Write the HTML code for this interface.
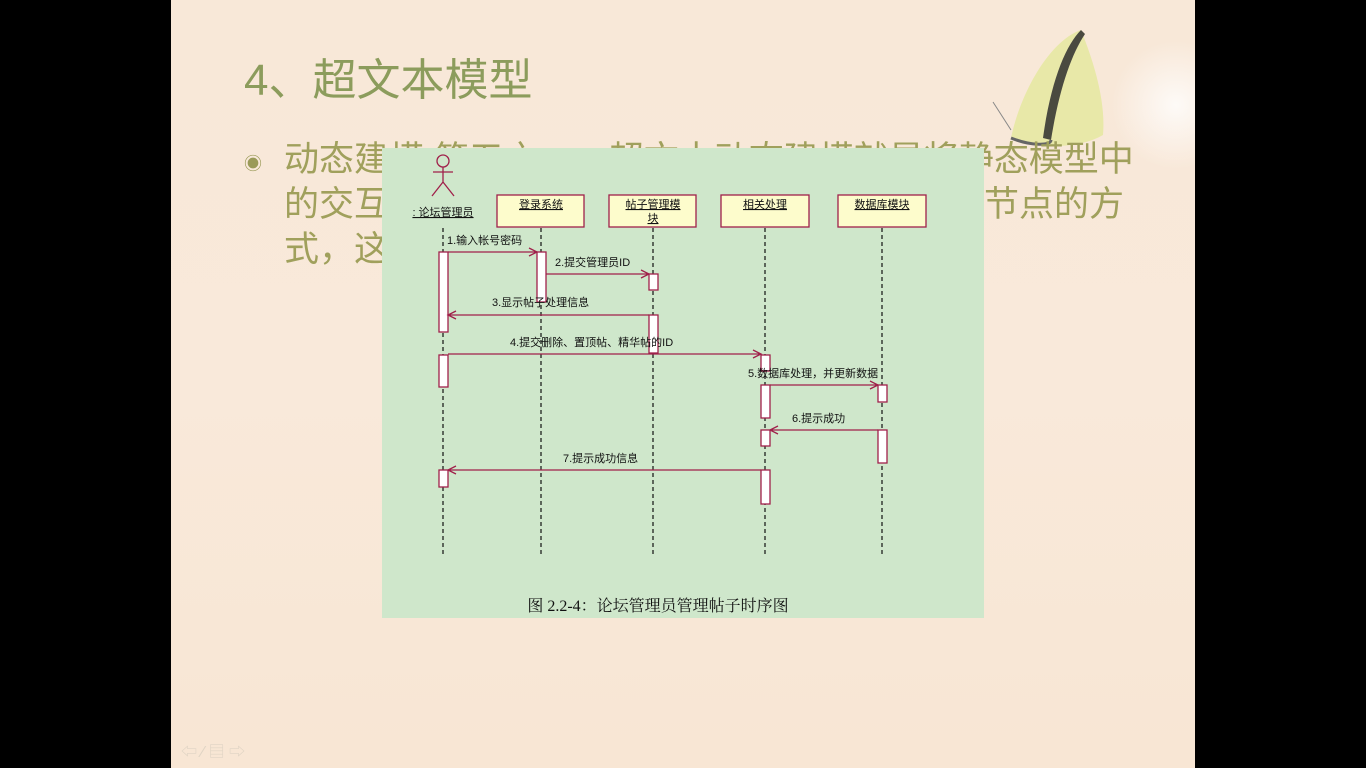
<!DOCTYPE html>
<html><head><meta charset="utf-8"><style>
body{margin:0;width:1366px;height:768px;background:#000;overflow:hidden;position:relative;font-family:"Liberation Sans","Noto Sans CJK SC",sans-serif}
#slide{position:absolute;left:171px;top:0;width:1024px;height:768px;background:linear-gradient(180deg,#f8e8d8 0%,#f9e9da 50%,#f8e6d4 100%);overflow:hidden}
.t{position:absolute;white-space:nowrap}
</style></head><body>
<div id="slide">
<div style="position:absolute;left:940px;top:40px;width:130px;height:130px;border-radius:50%;background:radial-gradient(circle,rgba(255,255,255,.8),rgba(255,255,255,0) 70%)"></div>
<svg style="position:absolute;left:810px;top:20px" width="214" height="140">
<path d="M30 118 C40 70 70 20 100 10 C112 40 125 80 122 115 C100 128 60 130 30 118 Z" fill="#e8e8a8"/>
<path d="M100 10 C85 25 70 60 62 118 L70 120 C78 70 90 35 104 14Z" fill="#4a4a40"/>
<path d="M30 118 C50 126 70 126 70 120" stroke="#666" stroke-width="3" fill="none"/>
<path d="M30 110 L12 82" stroke="#888" stroke-width="1" fill="none"/>
</svg>
<div class="t" style="left:73px;top:44px;font-size:44px;color:#8c9c5c">4、超文本模型</div>
<div class="t" style="left:73px;top:150px;font-size:18px;color:#9a9a58">◉</div>
<div class="t" style="left:113px;top:137px;font-size:35px;line-height:45px;color:#a0a05c">动态建模 第五之一，超文本动态建模就是将静态模型中<br>的交互行为用于描述系统的动态行为并映射到节点的方<br>式，这</div>
<div class="t" style="left:10px;top:738px;font-size:16px;color:#e0d4c4">⇦ ∕ ▤ ⇨</div>
</div>
<svg style="position:absolute;left:0;top:0" width="1366" height="768" font-family="Liberation Sans,Noto Sans CJK SC,sans-serif">
<rect x="382" y="148" width="602" height="470" fill="#cfe7cb"/>
<g stroke="#a0204a" fill="none" stroke-width="1.3">
<circle cx="443" cy="161" r="6"/>
<path d="M443 167 V182 M433 172 H453 M443 182 L432 196 M443 182 L454 196"/>
</g>
<g fill="#fdfccc" stroke="#a0204a" stroke-width="1.3">
<rect x="497" y="195" width="87" height="32"/><rect x="609" y="195" width="87" height="32"/>
<rect x="721" y="195" width="88" height="32"/><rect x="838" y="195" width="88" height="32"/>
</g>
<g font-size="11" fill="#111" text-decoration="underline" text-anchor="middle">
<text x="443" y="216">: 论坛管理员</text>
<text x="541" y="208">登录系统</text>
<text x="653" y="208">帖子管理模</text><text x="653" y="222">块</text>
<text x="765" y="208">相关处理</text><text x="882" y="208">数据库模块</text>
</g>
<g stroke="#111" stroke-dasharray="4,3" stroke-width="1.2">
<path d="M443 228V557M541 228V557M653 228V557M765 228V557M882 228V557"/>
</g>
<g fill="#fff" stroke="#a0204a" stroke-width="1.3">
<rect x="439" y="252" width="9" height="80"/><rect x="439" y="355" width="9" height="32"/><rect x="439" y="470" width="9" height="17"/>
<rect x="537" y="252" width="9" height="50"/>
<rect x="649" y="274" width="9" height="16"/><rect x="649" y="315" width="9" height="38"/>
<rect x="761" y="355" width="9" height="16"/><rect x="761" y="385" width="9" height="33"/><rect x="761" y="430" width="9" height="16"/><rect x="761" y="470" width="9" height="34"/>
<rect x="878" y="385" width="9" height="17"/><rect x="878" y="430" width="9" height="33"/>
</g>
<g stroke="#a0204a" stroke-width="1.3" fill="none">
<path d="M448 252H537M529 248L537 252L529 256"/>
<path d="M546 274H649M641 270L649 274L641 278"/>
<path d="M649 315H448M456 311L448 315L456 319"/>
<path d="M448 354H761M753 350L761 354L753 358"/>
<path d="M770 385H878M870 381L878 385L870 389"/>
<path d="M878 430H770M778 426L770 430L778 434"/>
<path d="M761 470H448M456 466L448 470L456 474"/>
</g>
<g font-size="11" fill="#111">
<text x="447" y="244">1.输入帐号密码</text>
<text x="555" y="266">2.提交管理员ID</text>
<text x="492" y="306">3.显示帖子处理信息</text>
<text x="510" y="346">4.提交删除、置顶帖、精华帖的ID</text>
<text x="748" y="377">5.数据库处理，并更新数据</text>
<text x="792" y="422">6.提示成功</text>
<text x="563" y="462">7.提示成功信息</text>
</g>
<text x="658" y="611" font-size="16" text-anchor="middle" fill="#111" font-family="Liberation Serif,Noto Serif CJK SC,serif">图 2.2-4：论坛管理员管理帖子时序图</text>
</svg>
</body></html>
